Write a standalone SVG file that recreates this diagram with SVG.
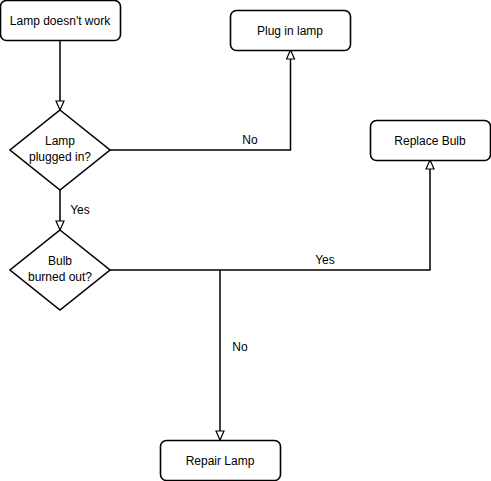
<svg xmlns="http://www.w3.org/2000/svg" width="491" height="481" viewBox="0 0 491 481">
<style>
.box{fill:#fff;stroke:#000;stroke-width:1.6}
.edge{fill:none;stroke:#000;stroke-width:1.5}
text{font-family:"Liberation Sans",Arial,sans-serif;font-size:12px;fill:#000}
.c{text-anchor:middle}
</style>
<defs>
<marker id="arr" viewBox="0 0 10 10" refX="10" refY="5" markerWidth="10" markerHeight="10" markerUnits="userSpaceOnUse" orient="auto">
<path d="M1,1 L10,5 L1,9 Z" fill="#fff" stroke="#000" stroke-width="1.2"/>
</marker>
</defs>
<rect width="491" height="481" fill="#fff"/>
<g id="connectors">
<path class="edge" d="M60,40 V110" marker-end="url(#arr)"/>
<path class="edge" d="M110,150 H290.5 V50" marker-end="url(#arr)"/>
<text x="250" y="144" class="c">No</text>
<path class="edge" d="M60,190 V230" marker-end="url(#arr)"/>
<text x="80" y="214" class="c">Yes</text>
<path class="edge" d="M110,270 H430 V160" marker-end="url(#arr)"/>
<text x="325" y="264" class="c">Yes</text>
<path class="edge" d="M220,270 V440" marker-end="url(#arr)"/>
<text x="240" y="351" class="c">No</text>
</g>
<g id="lamp-doesnt-work">
<rect class="box" x="0.5" y="0.5" width="120" height="40" rx="6"/>
<text x="60" y="24.5" class="c">Lamp doesn't work</text>
</g>
<g id="lamp-plugged-in">
<path class="box" d="M60,110 L110,150 L60,190 L10,150 Z"/>
<text x="60" y="145" class="c">Lamp</text>
<text x="60" y="161" class="c">plugged in?</text>
</g>
<g id="plug-in-lamp">
<rect class="box" x="230.5" y="10.5" width="120" height="40" rx="6"/>
<text x="290" y="34.5" class="c">Plug in lamp</text>
</g>
<g id="bulb-burned-out">
<path class="box" d="M60,230 L110,270 L60,310 L10,270 Z"/>
<text x="60" y="265" class="c">Bulb</text>
<text x="60" y="281" class="c">burned out?</text>
</g>
<g id="replace-bulb">
<rect class="box" x="370.5" y="120.5" width="120" height="40" rx="6"/>
<text x="430" y="144.5" class="c">Replace Bulb</text>
</g>
<g id="repair-lamp">
<rect class="box" x="160.5" y="440.5" width="120" height="40" rx="6"/>
<text x="220" y="464.5" class="c">Repair Lamp</text>
</g>
</svg>
